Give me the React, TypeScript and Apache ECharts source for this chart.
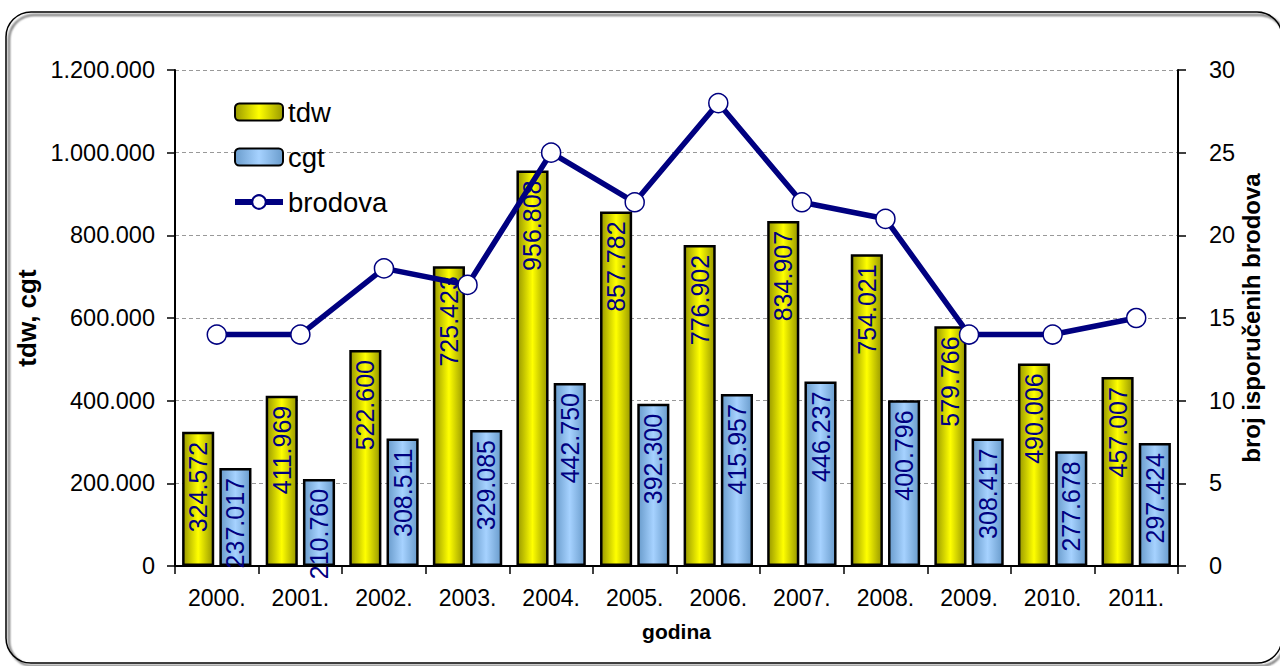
import React, { useEffect, useRef } from "react";
import * as echarts from "echarts";

const years = ["2000.", "2001.", "2002.", "2003.", "2004.", "2005.", "2006.", "2007.", "2008.", "2009.", "2010.", "2011."];
const tdw = [324572, 411969, 522600, 725423, 956808, 857782, 776902, 834907, 754021, 579766, 490006, 457007];
const cgt = [237017, 210760, 308511, 329085, 442750, 392300, 415957, 446237, 400796, 308417, 277678, 297424];
const brodova = [14, 14, 18, 17, 25, 22, 28, 22, 21, 14, 14, 15];

const fmt = (v: number) => String(Math.round(v)).replace(/\B(?=(\d{3})+(?!\d))/g, ".");

const FONT = "Liberation Sans, Arial, sans-serif";

export default function App() {
  const ref = useRef<HTMLDivElement>(null);
  useEffect(() => {
    const chart = echarts.init(ref.current!, null, { renderer: "svg" });
    const grad = (edge: string, mid: string) =>
      new echarts.graphic.LinearGradient(0, 0, 1, 0, [
        { offset: 0, color: edge },
        { offset: 0.5, color: mid },
        { offset: 1, color: edge },
      ]);
    const barLabel = {
      show: true,
      position: "insideTop",
      rotate: 90,
      align: "right",
      verticalAlign: "middle",
      distance: 10,
      color: "#000080",
      fontFamily: FONT,
      fontSize: 25,
      formatter: (p: any) => fmt(p.value),
    };
    chart.setOption({
      animation: false,
      backgroundColor: "#ffffff",
      textStyle: { fontFamily: FONT },
      graphic: [
        {
          type: "rect",
          shape: { x: 6, y: 12, width: 1276, height: 651, r: 25 },
          style: { fill: "none", stroke: "#000", lineWidth: 1.5, shadowColor: "rgba(0,0,0,0.8)", shadowOffsetX: 3, shadowOffsetY: 3, shadowBlur: 2 },
          z: -10,
          silent: true,
        },
      ],
      legend: {
        orient: "vertical",
        left: 227,
        top: 93,
        itemGap: 17,
        itemWidth: 48,
        itemHeight: 17,
        textStyle: { fontFamily: FONT, fontSize: 27.5, color: "#000" },
        data: [
          { name: "tdw" },
          { name: "cgt" },
          { name: "brodova", lineStyle: { width: 6, color: "#000080" } },
        ],
      },
      grid: { left: 175, right: 102, top: 70, bottom: 100 },
      xAxis: {
        type: "category",
        data: years,
        name: "godina",
        nameLocation: "middle",
        nameGap: 55,
        nameTextStyle: { fontFamily: FONT, fontSize: 21, fontWeight: "bold", color: "#000" },
        axisLine: { lineStyle: { color: "#000", width: 2 } },
        axisTick: { show: true, length: 8, lineStyle: { color: "#000", width: 1.5 } },
        axisLabel: { color: "#000", fontSize: 23, fontFamily: FONT, margin: 20 },
      },
      yAxis: [
        {
          type: "value",
          min: 0,
          max: 1200000,
          interval: 200000,
          name: "tdw, cgt",
          nameLocation: "middle",
          nameRotate: 90,
          nameGap: 120,
          nameTextStyle: { fontFamily: FONT, fontSize: 26, fontWeight: "bold", color: "#000" },
          axisLine: { show: true, lineStyle: { color: "#000", width: 2 } },
          axisTick: { show: true, length: 8, lineStyle: { color: "#000", width: 1.5 } },
          axisLabel: { color: "#000", fontSize: 23.5, fontFamily: FONT, margin: 20, formatter: (v: number) => fmt(v) },
          splitLine: { show: true, lineStyle: { color: "#999", type: [4, 3], width: 1 } },
        },
        {
          type: "value",
          min: 0,
          max: 30,
          interval: 5,
          position: "right",
          name: "broj isporučenih brodova",
          nameLocation: "middle",
          nameRotate: 90,
          nameGap: 61,
          nameMoveOverlap: false,
          nameTextStyle: { fontFamily: FONT, fontSize: 24, fontWeight: "bold", color: "#000" },
          axisLine: { show: true, lineStyle: { color: "#000", width: 2 } },
          axisTick: { show: true, length: 8, lineStyle: { color: "#000", width: 1.5 } },
          axisLabel: { color: "#000", fontSize: 23.5, fontFamily: FONT, margin: 31 },
          splitLine: { show: false },
        },
      ],
      series: [
        {
          name: "tdw",
          type: "bar",
          data: tdw,
          barGap: "16%",
          barCategoryGap: "17%",
          itemStyle: { color: grad("#999900", "#ffff00"), borderColor: "#000", borderWidth: 2.5 },
          label: barLabel,
        },
        {
          name: "cgt",
          type: "bar",
          data: cgt,
          itemStyle: { color: grad("#6a9ccc", "#a6d2ff"), borderColor: "#000", borderWidth: 2.5 },
          label: barLabel,
        },
        {
          name: "brodova",
          type: "line",
          yAxisIndex: 1,
          data: brodova,
          z: 5,
          symbol: "circle",
          symbolSize: 19,
          lineStyle: { color: "#000080", width: 5.5 },
          itemStyle: { color: "#ffffff", borderColor: "#000080", borderWidth: 1.5 },
        },
      ],
    });
    return () => chart.dispose();
  }, []);
  return <div ref={ref} style={{ position: "fixed", left: 0, top: 0, width: 1280, height: 666 }} />;
}
